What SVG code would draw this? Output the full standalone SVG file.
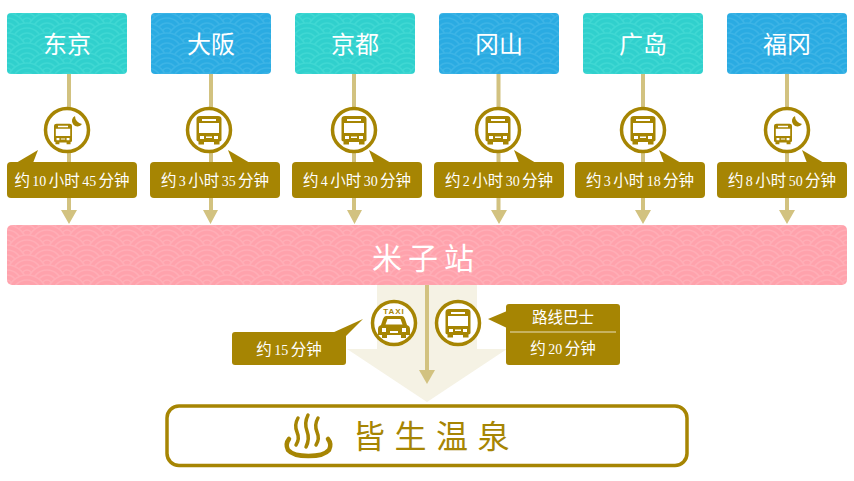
<svg xmlns="http://www.w3.org/2000/svg" xmlns:xlink="http://www.w3.org/1999/xlink" width="854" height="481" viewBox="0 0 854 481">
<style>
text{font-family:"Liberation Serif","Noto Sans CJK SC",serif;text-anchor:middle}
.city{font-size:24px;fill:#fff;font-family:"Noto Sans CJK SC",sans-serif;font-weight:400}
.time{font-size:15.500px;fill:#fff;word-spacing:-1.500px}
.time tspan{font-size:14px}
.pill{fill:#a68503}
.line{stroke:#d2c280;stroke-width:4;fill:none}
.head{fill:#d2c280}
.ring{fill:#fff;stroke:#a68503;stroke-width:3.500}
.ico{fill:#a68503}
.wT{fill:#30d0cd;stroke:#3fd8d3;stroke-width:1.500}
.wB{fill:#2aabe2;stroke:#3cb4e6;stroke-width:1.500}
.wP{fill:#ffa2ac;stroke:#ffaeb7;stroke-width:1.500}
</style>
<defs>
<g id="sei"><circle r="20"/><circle r="15"/><circle r="10"/><circle r="5"/></g>
<g id="tile">
<use xlink:href="#sei" x="0" y="0"/><use xlink:href="#sei" x="40" y="0"/>
<use xlink:href="#sei" x="-20" y="10"/><use xlink:href="#sei" x="20" y="10"/><use xlink:href="#sei" x="60" y="10"/>
<use xlink:href="#sei" x="0" y="20"/><use xlink:href="#sei" x="40" y="20"/>
<use xlink:href="#sei" x="-20" y="30"/><use xlink:href="#sei" x="20" y="30"/><use xlink:href="#sei" x="60" y="30"/>
<use xlink:href="#sei" x="0" y="40"/><use xlink:href="#sei" x="40" y="40"/>
</g>
<pattern id="pT" width="40" height="20" patternUnits="userSpaceOnUse" patternTransform="translate(7 13)"><use xlink:href="#tile" class="wT"/></pattern>
<pattern id="pB" width="40" height="20" patternUnits="userSpaceOnUse" patternTransform="translate(7 13)"><use xlink:href="#tile" class="wB"/></pattern>
<pattern id="pP" width="40" height="20" patternUnits="userSpaceOnUse" patternTransform="translate(7 225)"><use xlink:href="#tile" class="wP"/></pattern>
<g id="bus"><path class="ico" fill-rule="evenodd" d="M-9-15H9Q12.500-15 12.500-12V9Q12.500 10 10.500 10.500V13.500H5V11H-5V13.500H-10.500V10.500Q-12.500 10-12.500 9V-12Q-12.500-15-9-15ZM-7-12V-10H7V-12ZM-10-8V2H10V-8ZM-9 5V8H-5V5ZM5 5V8H9V5ZM-3 5.500V7H3V5.500Z"/></g>
<g id="night"><use xlink:href="#bus" transform="translate(-4 4.500) scale(.72)"/><path class="ico" d="M8-14A5.500 5.500 0 1 0 15-6A8 8 0 0 1 8-14Z"/></g>
</defs>

<g id="connectors">
<path class="line" d="M69 74V211M211 74V211M354 74V211M498.500 74V211M643 74V211M787 74V211"/>
<path class="head" d="M61 210H77L69 224ZM203 210H218L210.500 224ZM347 210H362L354.500 224ZM491 210H507L499 224ZM635 210H651L643 224ZM779 210H795L787 224Z"/>
</g>

<g id="beam"><path fill="#f5f2e4" d="M377 285H477V349H507L427 402L347 349H377Z"/><path class="line" d="M427 285V371"/><path class="head" d="M419 370H435L427 384Z"/></g>

<g id="n-tokyo"><rect x="7" y="13" width="120" height="61" rx="4" fill="url(#pT)"/><text class="city" x="67" y="53">东京</text></g>
<g id="n-osaka"><rect x="151" y="13" width="120" height="61" rx="4" fill="url(#pB)"/><text class="city" x="211" y="53">大阪</text></g>
<g id="n-kyoto"><rect x="295" y="13" width="120" height="61" rx="4" fill="url(#pT)"/><text class="city" x="355" y="53">京都</text></g>
<g id="n-okayama"><rect x="439" y="13" width="120" height="61" rx="4" fill="url(#pB)"/><text class="city" x="499" y="53">冈山</text></g>
<g id="n-hiroshima"><rect x="583" y="13" width="120" height="61" rx="4" fill="url(#pT)"/><text class="city" x="643" y="53">广岛</text></g>
<g id="n-fukuoka"><rect x="727" y="13" width="120" height="61" rx="4" fill="url(#pB)"/><text class="city" x="787" y="53">福冈</text></g>

<g id="t-tokyo"><circle class="ring" cx="67" cy="130" r="21.500"/><use xlink:href="#night" x="67" y="130"/><path class="pill" d="M16 163L38 150L33 163Z"/><rect class="pill" x="7" y="162" width="130" height="36" rx="4"/><text class="time" x="72" y="186">约 <tspan>10</tspan> 小时 <tspan>45</tspan> 分钟</text></g>
<g id="t-osaka"><circle class="ring" cx="209" cy="130" r="21.500"/><use xlink:href="#bus" x="209" y="131"/><path class="pill" d="M228 150L250 163H233Z"/><rect class="pill" x="150" y="162" width="130" height="36" rx="4"/><text class="time" x="215" y="186">约 <tspan>3</tspan> 小时 <tspan>35</tspan> 分钟</text></g>
<g id="t-kyoto"><circle class="ring" cx="354" cy="130" r="21.500"/><use xlink:href="#bus" x="354" y="131"/><path class="pill" d="M369 150L391 163H374Z"/><rect class="pill" x="292" y="162" width="130" height="36" rx="4"/><text class="time" x="357" y="186">约 <tspan>4</tspan> 小时 <tspan>30</tspan> 分钟</text></g>
<g id="t-okayama"><circle class="ring" cx="498" cy="130" r="21.500"/><use xlink:href="#bus" x="498" y="131"/><path class="pill" d="M514 150L536 163H519Z"/><rect class="pill" x="434" y="162" width="130" height="36" rx="4"/><text class="time" x="499" y="186">约 <tspan>2</tspan> 小时 <tspan>30</tspan> 分钟</text></g>
<g id="t-hiroshima"><circle class="ring" cx="643" cy="130" r="21.500"/><use xlink:href="#bus" x="643" y="131"/><path class="pill" d="M659 150L681 163H664Z"/><rect class="pill" x="575" y="162" width="130" height="36" rx="4"/><text class="time" x="640" y="186">约 <tspan>3</tspan> 小时 <tspan>18</tspan> 分钟</text></g>
<g id="t-fukuoka"><circle class="ring" cx="787" cy="130" r="21.500"/><use xlink:href="#night" x="787" y="130"/><path class="pill" d="M802 150L824 163H807Z"/><rect class="pill" x="717" y="162" width="130" height="36" rx="4"/><text class="time" x="782" y="186">约 <tspan>8</tspan> 小时 <tspan>50</tspan> 分钟</text></g>

<g id="n-yonago"><rect x="7" y="225" width="840" height="60" rx="5" fill="url(#pP)"/><text x="426" y="269" font-size="30" fill="#fff" letter-spacing="6" style="font-family:'Noto Sans CJK SC',sans-serif">米子站</text></g>

<g id="t-taxi"><circle class="ring" cx="394" cy="323" r="21.500"/><text x="394" y="314" style="font-family:'Liberation Sans',sans-serif;font-weight:700" font-size="8" letter-spacing="1" fill="#a68503">TAXI</text><path class="ico" fill-rule="evenodd" d="M386 316H402Q404 316 405 319L407 325Q410 326 410 329V335H406V338H401V335H387V338H382V335H378V329Q378 326 381 325L383 319Q384 316 386 316ZM387.500 319L385.500 324.500H402.500L400.500 319ZM382 328V332H386V328ZM402 328V332H406V328ZM390 331V333H398V331Z"/><path class="pill" d="M332 333L363 319L345 337Z"/><rect class="pill" x="232" y="332" width="114" height="33" rx="3"/><text class="time" x="289" y="355">约 <tspan>15</tspan> 分钟</text></g>
<g id="t-bus"><circle class="ring" cx="458" cy="323" r="21.500"/><use xlink:href="#bus" x="458" y="324"/><path class="pill" d="M488 319L507 311V328Z"/><rect class="pill" x="506" y="304" width="114" height="61" rx="3"/><path d="M510 332H616" stroke="#d2c280" stroke-width="1.500"/><text class="time" x="563" y="323">路线巴士</text><text class="time" x="563" y="354">约 <tspan>20</tspan> 分钟</text></g>

<g id="n-kaike"><rect x="167" y="406" width="520" height="59.500" rx="12" fill="#fff" stroke="#a68503" stroke-width="3.500"/><g fill="none" stroke="#a68503" stroke-linecap="round"><path stroke-width="3.500" d="M298 418Q294 425 297 432Q300 439 296 445M308 415Q304 423 307 431Q310 439 306 447M318 418Q314 425 317 432Q320 439 316 445"/><path stroke-width="4.500" d="M289 439Q285 444 288 450Q293 456 308.500 456Q324 456 329 450Q332 444 328 439"/></g><text x="436" y="448" font-size="32" fill="#a68503" letter-spacing="9.500" style="font-family:'Noto Sans CJK SC',sans-serif">皆生温泉</text></g>
</svg>
